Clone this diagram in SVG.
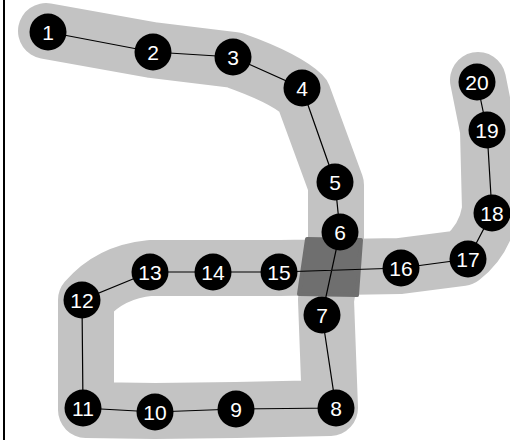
<svg xmlns="http://www.w3.org/2000/svg" width="510" height="440" viewBox="0 0 510 440">
<style>
.band{fill:none;stroke:#c3c3c3;stroke-width:56;stroke-linejoin:round;stroke-linecap:round}
.edge{stroke:#000;stroke-width:1.2;fill:none}
.node circle{fill:#000}
.node text{fill:#fff;font-family:"Liberation Sans",Arial,sans-serif;font-size:21px;text-anchor:middle;dominant-baseline:central}
</style>
<rect width="510" height="440" fill="#fff"/>
<line x1="4" y1="0" x2="4" y2="440" stroke="#000" stroke-width="2"/>
<g id="band">
<path class="band" d="M46 31 L152 50 L234 60 Q285 78 303 95 L336 185 L336 240 L326 300 L330 408 L236 410 L155 411 L86 410 L86 300 Q110 272 150 268 L280 268 L400 266 L462 258 Q485 240 490 210 L488 130 L478 80"/>
<path d="M307 239 L361 240 L357 295 L299 294 Z" fill="#6f6f6f" stroke="#6f6f6f" stroke-width="4" stroke-linejoin="round"/>
</g>
<g id="connectors">
<polyline class="edge" points="48,32 153,52 233,57 302,88 335,182 340,232 322,315 336,408 236,409 155,412 83,408 82,300 150,272 213,272 279,272 401,268 468,259 492,213 487,130 477,82"/>
</g>
<g id="n1" class="node"><circle cx="48" cy="32" r="18.5"/><text x="48" y="32">1</text></g>
<g id="n2" class="node"><circle cx="153" cy="52" r="18.5"/><text x="153" y="52">2</text></g>
<g id="n3" class="node"><circle cx="233" cy="57" r="18.5"/><text x="233" y="57">3</text></g>
<g id="n4" class="node"><circle cx="302" cy="88" r="18.5"/><text x="302" y="88">4</text></g>
<g id="n5" class="node"><circle cx="335" cy="182" r="18.5"/><text x="335" y="182">5</text></g>
<g id="n6" class="node"><circle cx="340" cy="232" r="18.5"/><text x="340" y="232">6</text></g>
<g id="n7" class="node"><circle cx="322" cy="315" r="18.5"/><text x="322" y="315">7</text></g>
<g id="n8" class="node"><circle cx="336" cy="408" r="18.5"/><text x="336" y="408">8</text></g>
<g id="n9" class="node"><circle cx="236" cy="409" r="18.5"/><text x="236" y="409">9</text></g>
<g id="n10" class="node"><circle cx="155" cy="412" r="18.5"/><text x="155" y="412">10</text></g>
<g id="n11" class="node"><circle cx="83" cy="408" r="18.5"/><text x="83" y="408">11</text></g>
<g id="n12" class="node"><circle cx="82" cy="300" r="18.5"/><text x="82" y="300">12</text></g>
<g id="n13" class="node"><circle cx="150" cy="272" r="18.5"/><text x="150" y="272">13</text></g>
<g id="n14" class="node"><circle cx="213" cy="272" r="18.5"/><text x="213" y="272">14</text></g>
<g id="n15" class="node"><circle cx="279" cy="272" r="18.5"/><text x="279" y="272">15</text></g>
<g id="n16" class="node"><circle cx="401" cy="268" r="18.5"/><text x="401" y="268">16</text></g>
<g id="n17" class="node"><circle cx="468" cy="259" r="18.5"/><text x="468" y="259">17</text></g>
<g id="n18" class="node"><circle cx="492" cy="213" r="18.5"/><text x="492" y="213">18</text></g>
<g id="n19" class="node"><circle cx="487" cy="130" r="18.5"/><text x="487" y="130">19</text></g>
<g id="n20" class="node"><circle cx="477" cy="82" r="18.5"/><text x="477" y="82">20</text></g>
</svg>
